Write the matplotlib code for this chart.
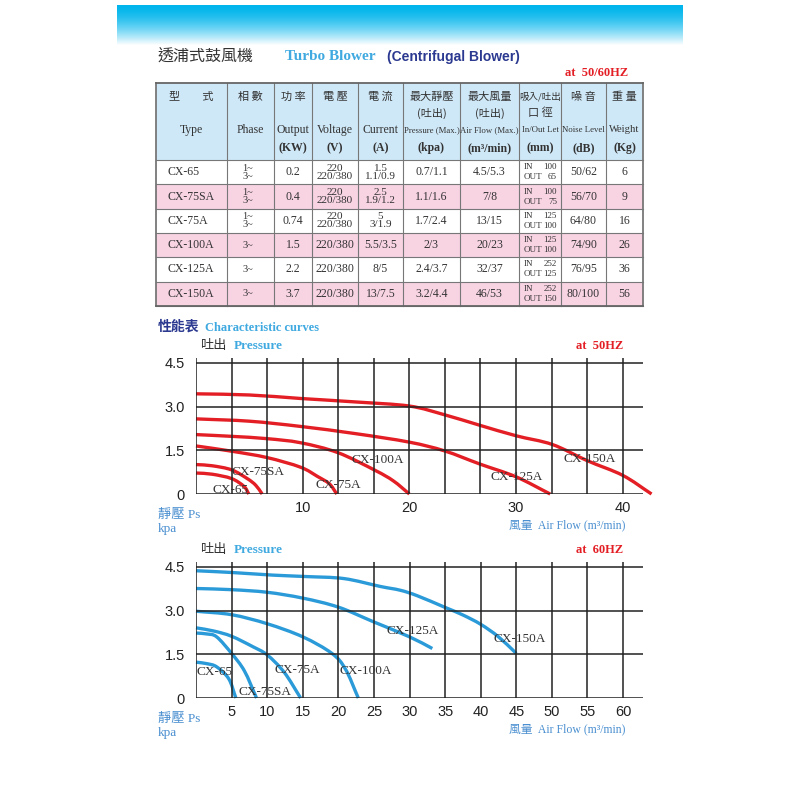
import numpy as np
import matplotlib.pyplot as plt
from matplotlib.patches import Rectangle, PathPatch
from matplotlib.path import Path

plt.rcParams['font.family'] = ['Liberation Serif', 'Noto Sans CJK TC']

# ---- table data ----
types = ['CX-65', 'CX-75SA', 'CX-75A', 'CX-100A', 'CX-125A', 'CX-150A']
phases = ['1~\n3~', '1~\n3~', '1~\n3~', '3~', '3~', '3~']
outputs = ['0.2', '0.4', '0.74', '1.5', '2.2', '3.7']
voltages = ['220\n220/380', '220\n220/380', '220\n220/380', '220/380', '220/380', '220/380']
currents = ['1.5\n1.1/0.9', '2.5\n1.9/1.2', '5\n3/1.9', '5.5/3.5', '8/5', '13/7.5']
pressures = ['0.7/1.1', '1.1/1.6', '1.7/2.4', '2/3', '2.4/3.7', '3.2/4.4']
flows = ['4.5/5.3', '7/8', '13/15', '20/23', '32/37', '46/53']
inlets = ['100', '100', '125', '125', '252', '252']
outlets = ['65', '75', '100', '100', '125', '150']
noises = ['50/62', '56/70', '64/80', '74/90', '76/95', '80/100']
weights = ['6', '9', '16', '26', '36', '56']

head_cn = ['型　　式', '相 數', '功 率', '電 壓', '電 流', '最大靜壓', '最大風量', '吸入/吐出', '噪 音', '重 量']
head_cn2 = ['', '', '', '', '', '(吐出)', '(吐出)', '口 徑', '', '']
head_en = ['Type', 'Phase', 'Output', 'Voltage', 'Current', 'Pressure (Max.)',
           'Air Flow (Max.)', 'In/Out Let', 'Noise Level', 'Weight']
head_unit = ['', '', '(KW)', '(V)', '(A)', '(kpa)', '(m³/min)', '(mm)', '(dB)', '(Kg)']

# ---- 50HZ curves (flow m3/min, pressure kpa) ----
q50_cx65 = [0, 1.5, 3.33, 4.5, 4.95]
p50_cx65 = [0.72, 0.68, 0.53, 0.26, 0]
q50_cx75sa = [0, 1.5, 3.33, 4.8, 5.6, 6.2]
p50_cx75sa = [1.01, 0.97, 0.83, 0.53, 0.3, 0]
q50_cx75a = [0, 3.33, 6.67, 9.8, 11.4, 12.5, 13.2]
p50_cx75a = [1.65, 1.47, 1.25, 0.92, 0.6, 0.35, 0]
q50_cx100a = [0, 3.33, 6.67, 9.8, 13.3, 16.8, 18.5, 20]
p50_cx100a = [2.04, 1.98, 1.9, 1.76, 1.42, 0.81, 0.45, 0]
q50_cx125a = [0, 5, 9.8, 15, 20, 23.3, 26.6, 30, 33.2]
p50_cx125a = [2.58, 2.5, 2.32, 2.07, 1.78, 1.48, 1.03, 0.59, 0]
q50_cx150a = [0, 5, 9.8, 15, 20, 23.3, 26.6, 30, 33.4, 36.7, 40, 42.7]
p50_cx150a = [3.44, 3.4, 3.28, 3.16, 3.02, 2.72, 2.36, 2.0, 1.7, 1.14, 0.64, 0]

# ---- 60HZ curves ----
q60_cx65 = [0, 1.5, 2.9, 4.6, 5.6]
p60_cx65 = [1.23, 1.18, 1.07, 0.66, 0]
q60_cx75sa = [0, 1.5, 2.9, 5, 6.8, 8.5]
p60_cx75sa = [2.23, 2.2, 2.1, 1.53, 0.93, 0]
q60_cx75a = [0, 2.5, 5, 8, 10, 12.4, 14.7]
p60_cx75a = [2.41, 2.3, 2.12, 1.76, 1.48, 0.88, 0]
q60_cx100a = [0, 5, 10, 15, 19.1, 21, 22.8]
p60_cx100a = [2.98, 2.86, 2.55, 2.1, 1.53, 0.99, 0]
q60_cx125a = [0, 5, 10, 15, 20, 25, 30, 33.2]
p60_cx125a = [3.76, 3.72, 3.63, 3.43, 3.12, 2.61, 2.1, 1.7]
q60_cx150a = [0, 5, 10.75, 15.5, 20.8, 25.9, 28.7, 31.1, 35, 37.5, 40, 42.5, 45]
p60_cx150a = [4.37, 4.31, 4.22, 4.17, 4.1, 3.83, 3.7, 3.51, 3.11, 2.85, 2.53, 2.1, 1.53]

names = ['CX-65', 'CX-75SA', 'CX-75A', 'CX-100A', 'CX-125A', 'CX-150A']
lab50_x = [3.25, 5.8, 13.3, 17.0, 30.1, 36.9]
lab50_y = [0.13, 0.74, 0.3, 1.17, 0.57, 1.2]
lab60_x = [2.6, 9.7, 14.2, 23.8, 30.4, 45.5]
lab60_y = [0.88, 0.2, 0.97, 0.93, 2.3, 2.03]

red = '#e31e24'
blue = '#2a9ad8'
navy = '#2b3990'
lblue = '#3fa9e0'
axblue = '#4a8fd0'
dark = '#333333'


def smooth_path(q, p):
    # bezier path through the read points (catmull-rom style handles)
    pts = np.column_stack([q, p]).astype(float)
    ext = np.vstack([2 * pts[0] - pts[1], pts, 2 * pts[-1] - pts[-2]])
    verts = [pts[0]]
    codes = [Path.MOVETO]
    for i in range(1, len(ext) - 2):
        c1 = ext[i] + (ext[i + 1] - ext[i - 1]) / 6
        c2 = ext[i + 1] - (ext[i + 2] - ext[i]) / 6
        verts += [c1, c2, ext[i + 1]]
        codes += [Path.CURVE4] * 3
    return Path(verts, codes)


fig = plt.figure(figsize=(8, 8), dpi=100)
page = fig.add_axes([0, 0, 1, 1])
page.axis('off')

# banner
t = np.linspace(0, 1, 200)[:, None]
s = t ** 1.6
cyan = np.array([0, 181, 236]) / 255
img = (cyan[None, None, :] * (1 - s[:, :, None]) + s[:, :, None]) * np.ones((1, 2, 1))
page.imshow(img, extent=[117, 683, 45, 5], aspect='auto', interpolation='bilinear')
page.set_xlim(0, 800)
page.set_ylim(800, 0)

# title
page.text(158, 56, '透浦式鼓風機', fontsize=11.5, color=dark, va='center', family=['Noto Sans CJK TC'])
page.text(285, 57, 'Turbo Blower', fontsize=11, fontweight='bold', color=lblue, va='center')
page.text(387, 57, '(Centrifugal Blower)', fontsize=10, fontweight='bold', color=navy,
          va='center', family=['Liberation Sans'])
page.text(628, 73, 'at  50/60HZ', ha='right', va='center', fontsize=9, fontweight='bold', color=red)

# table
edges = [156, 227, 274, 312, 358, 403, 460, 519, 561, 606, 643]
top, hbot, bot = 83, 160, 306
rh = (bot - hbot) / 6
page.add_patch(Rectangle((edges[0], top), edges[-1] - edges[0], hbot - top, fc='#cfe8f7', ec='none'))
for i in range(6):
    if i % 2 == 1:
        page.add_patch(Rectangle((edges[0], hbot + i * rh), edges[-1] - edges[0], rh, fc='#f8d3e2', ec='none'))
for x in edges:
    lw = 1.3 if x in (edges[0], edges[-1]) else 0.8
    page.plot([x, x], [top, bot], color='#777777', lw=lw)
for k in range(7):
    y = hbot + k * rh
    page.plot([edges[0], edges[-1]], [y, y], color='#777777', lw=0.8)
page.plot([edges[0], edges[-1]], [top, top], color='#666666', lw=1.3)
page.plot([edges[0], edges[-1]], [bot, bot], color='#666666', lw=1.3)

cx = [(edges[i] + edges[i + 1]) / 2 for i in range(10)]
for i in range(10):
    page.text(cx[i], 97, head_cn[i], ha='center', va='center', fontsize=6.8 if i == 7 else 8,
              color=dark, family=['Noto Sans CJK TC'])
    if head_cn2[i]:
        page.text(cx[i], 113, head_cn2[i], ha='center', va='center', fontsize=8, color=dark,
                  family=['Noto Sans CJK TC'])
    fs = 6.3 if i in (5, 6, 7, 8) else (7.6 if i == 9 else 8.5)
    page.text(cx[i], 130, head_en[i], ha='center', va='center', fontsize=fs, color=dark)
    if head_unit[i]:
        page.text(cx[i], 148, head_unit[i], ha='center', va='center', fontsize=8.5,
                  fontweight='bold', color=dark)

cols = [types, phases, outputs, voltages, currents, pressures, flows, None, noises, weights]
for r in range(6):
    yc = hbot + (r + 0.5) * rh
    for i, col in enumerate(cols):
        if col is None:
            for dy, a, b in [(-5, 'IN', inlets[r]), (5, 'OUT', outlets[r])]:
                page.text(524, yc + dy, a, ha='left', va='center', fontsize=6.5, color=dark)
                page.text(557, yc + dy, b, ha='right', va='center', fontsize=6.5, color=dark)
            continue
        txt = col[r]
        if i == 0:
            page.text(168, yc, txt, ha='left', va='center', fontsize=8.5, color=dark)
        elif i == 1:
            page.text(cx[i] - 8, yc, txt, ha='left', va='center', fontsize=7.5, color=dark,
                      linespacing=0.85)
        else:
            fs = 8 if '\n' in txt else 8.5
            page.text(cx[i], yc, txt, ha='center', va='center', fontsize=fs, color=dark,
                      linespacing=0.85)

# section header
page.text(158, 327, '性能表', fontsize=10, fontweight='bold', color=navy, va='center',
          family=['Noto Sans CJK TC'])
page.text(205, 328, 'Characteristic curves', fontsize=9, fontweight='bold', color=lblue, va='center')


def chart(top_px, bot_px, xmax, xgrid, xticks, curves, labx, laby, color, hz):
    ax = fig.add_axes([196 / 800, 1 - bot_px / 800, (643 - 196) / 800, (bot_px - top_px) / 800])
    ax.set_xlim(0, xmax)
    ax.set_ylim(0, 4.67)
    for sp in ax.spines.values():
        sp.set_visible(False)
    for y in [0, 1.5, 3.0, 4.5]:
        ax.axhline(y, color='#222222', lw=1.1)
    for x in xgrid:
        ax.axvline(x, color='#222222', lw=1.1)
    for q, p in curves:
        ax.add_patch(PathPatch(smooth_path(q, p), fc='none', ec=color, lw=2.4,
                               capstyle='butt', clip_on=False))
    for n, lx, ly in zip(names, labx, laby):
        ax.text(lx, ly, n, ha='center', va='center', fontsize=9.5, color=dark)
    ax.set_xticks(xticks)
    ax.set_xticklabels([str(v) for v in xticks], family=['Liberation Sans'])
    ax.set_yticks([0, 1.5, 3.0, 4.5])
    ax.set_yticklabels(['0', '1.5', '3.0', '4.5'], family=['Liberation Sans'])
    ax.tick_params(length=0, labelsize=10.5, colors='#222222')
    ax.tick_params(axis='x', pad=5)
    ax.tick_params(axis='y', pad=8)
    ax.patch.set_alpha(0)
    ht = top_px - 13
    page.text(200, ht, '吐出', fontsize=9.5, color=dark, va='center', family=['Noto Sans CJK TC'])
    page.text(234, ht + 1, 'Pressure', fontsize=9.5, fontweight='bold', color=lblue, va='center')
    page.text(623, ht + 1, 'at  ' + hz, ha='right', va='center', fontsize=9, fontweight='bold', color=red)
    page.text(158, bot_px + 21, '靜壓 Ps', fontsize=9.5, color=axblue, va='center')
    page.text(158, bot_px + 35, 'kpa', fontsize=9.5, color=axblue, va='center')
    page.text(625, bot_px + 31, '風量  Air Flow (m³/min)', ha='right', fontsize=8.5, color=axblue,
              va='center')
    return ax


curves50 = [(q50_cx65, p50_cx65), (q50_cx75sa, p50_cx75sa), (q50_cx75a, p50_cx75a),
            (q50_cx100a, p50_cx100a), (q50_cx125a, p50_cx125a), (q50_cx150a, p50_cx150a)]
curves60 = [(q60_cx65, p60_cx65), (q60_cx75sa, p60_cx75sa), (q60_cx75a, p60_cx75a),
            (q60_cx100a, p60_cx100a), (q60_cx125a, p60_cx125a), (q60_cx150a, p60_cx150a)]

chart(358, 494, 41.9, np.linspace(0, 40, 13), [10, 20, 30, 40], curves50, lab50_x, lab50_y, red, '50HZ')
chart(562, 698, 62.8, np.arange(0, 61, 5), list(range(5, 61, 5)), curves60, lab60_x, lab60_y, blue, '60HZ')

fig.savefig('out.png', dpi=100, facecolor='white')
